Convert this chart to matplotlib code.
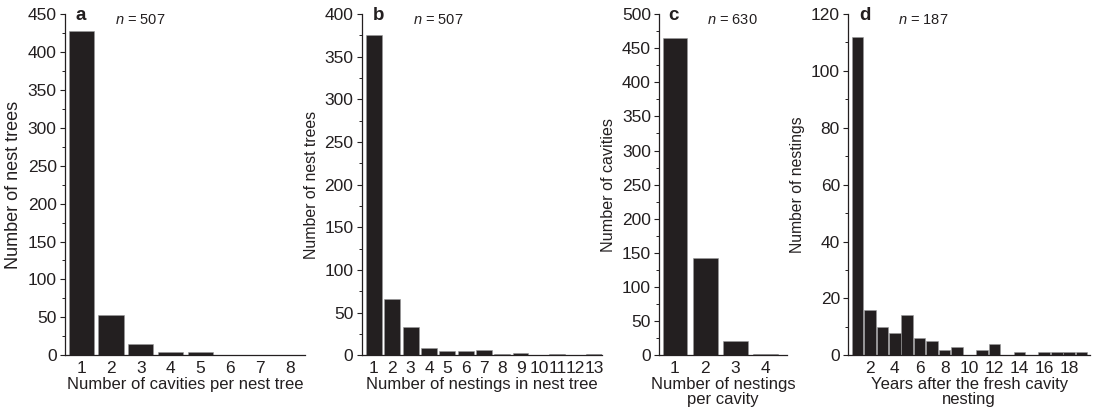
import matplotlib
matplotlib.use("Agg")
import matplotlib.pyplot as plt
from matplotlib.ticker import MultipleLocator

plt.rcParams['font.family'] = ['Liberation Sans', 'DejaVu Sans']
plt.rcParams['mathtext.fontset'] = 'custom'
plt.rcParams['mathtext.it'] = 'Liberation Sans:italic'
plt.rcParams['mathtext.rm'] = 'Liberation Sans'

# Panel a
a_x = [1, 2, 3, 4, 5, 6, 7, 8]
a_y = [428, 53, 15, 5, 4, 1, 0, 1]
# Panel b
b_x = list(range(1, 14))
b_y = [375, 66, 33, 9, 5, 5, 6, 2, 3, 0, 1, 0, 2]
# Panel c
c_x = [1, 2, 3, 4]
c_y = [465, 142, 21, 2]
# Panel d
d_x = list(range(1, 20))
d_y = [112, 16, 10, 8, 14, 6, 5, 2, 3, 0, 2, 4, 0, 1, 0, 1, 1, 1, 1]

letters = ['a', 'b', 'c', 'd']
n_labels = ['507', '507', '630', '187']
ylabels = ['Number of nest trees', 'Number of nest trees', 'Number of cavities', 'Number of nestings']
xlabels = ['Number of cavities per nest tree', 'Number of nestings in nest tree',
           'Number of nestings\nper cavity', 'Years after the fresh cavity\nnesting']

W, H = 1095, 417
fig = plt.figure(figsize=(W / 100, H / 100), dpi=100)

col = '#231f20'
axes_px = [(65, 305), (361.7, 602), (659.3, 786.7), (848.3, 1090)]
bottom_px, top_px = 355.3, 14
xlims = [(0.46, 8.5), (0.33, 13.44), (0.48, 4.7), (0.27, 19.67)]
ylims = [450, 400, 500, 120]
majors = [50, 50, 50, 20]
minors = [25, 25, 25, 10]
widths = [0.84, 0.86, 0.82, 0.93]
xticks = [a_x, b_x, c_x, list(range(2, 19, 2))]
data = [(a_x, a_y), (b_x, b_y), (c_x, c_y), (d_x, d_y)]
letter_px = [81, 379, 673, 865]
n_px = [115, 413, 707, 898]
ylab_sizes = [13, 11.4, 11.6, 11.3]

for i in range(4):
    l, r = axes_px[i]
    ax = fig.add_axes([l / W, (H - bottom_px) / H, (r - l) / W, (bottom_px - top_px) / H])
    xs, ys = data[i]
    ax.bar(xs, ys, width=widths[i], color=col, edgecolor='#9a9a9a', linewidth=0.4)
    ax.set_xlim(*xlims[i])
    ax.set_ylim(0, ylims[i])
    ax.yaxis.set_major_locator(MultipleLocator(majors[i]))
    ax.yaxis.set_minor_locator(MultipleLocator(minors[i]))
    ax.set_xticks(xticks[i])
    ax.set_xticklabels([str(t) for t in xticks[i]])
    for s in ['top', 'right']:
        ax.spines[s].set_visible(False)
    for s in ['left', 'bottom']:
        ax.spines[s].set_color(col)
        ax.spines[s].set_linewidth(0.9)
    ax.tick_params(axis='x', length=0, pad=4, labelsize=12.5, colors=col)
    ax.tick_params(axis='y', which='major', length=3.5, width=0.8, pad=2.5, labelsize=12.5, colors=col)
    ax.tick_params(axis='y', which='minor', length=2.5, width=0.7, colors=col)
    ax.set_ylabel(ylabels[i], fontsize=ylab_sizes[i], color=col, labelpad=4)
    ax.set_xlabel(xlabels[i], fontsize=12, color=col, labelpad=1, linespacing=1.0)
    fig.text(letter_px[i] / W, (H - 20) / H, letters[i], fontsize=13.5, fontweight='bold',
             color=col, ha='center', va='baseline')
    fig.text(n_px[i] / W, (H - 24.5) / H, r'$n$ = ' + n_labels[i], fontsize=10.5,
             color=col, ha='left', va='baseline')

fig.savefig('out.png', dpi=100)
